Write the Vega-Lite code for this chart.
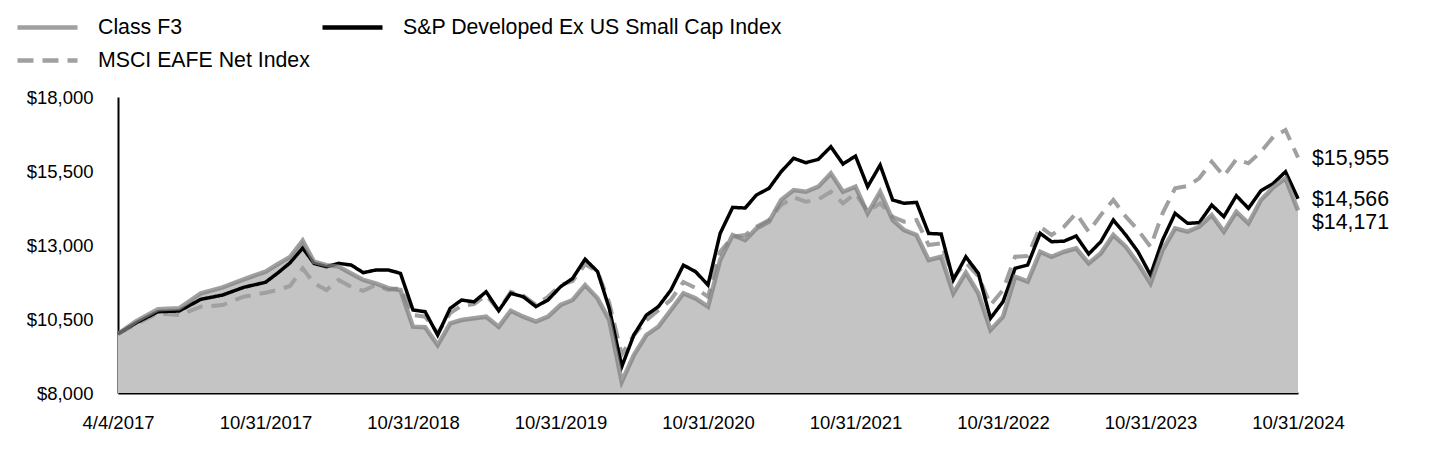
{
"$schema":"https://vega.github.io/schema/vega-lite/v6.json",
"width":1180,"height":296,
"autosize":{"type":"none"},
"padding":{"left":118,"top":97,"right":142,"bottom":75},
"background":"white",
"config":{"view":{"stroke":null},"font":"Liberation Sans",
"legend":{"orient":"none","legendX":-88,"legendY":-87,"columns":2,"columnPadding":3,"rowPadding":5,"symbolType":"M-2,0H2","symbolSize":900,"symbolStrokeWidth":4.5,"labelFontSize":21.3,"labelFont":"Liberation Sans","labelColor":"black","labelOffset":33,"padding":0,"labelLimit":0}},
"data":{"format":{"parse":{"d":"date"}},"values":[
{"d":"2017-04-04","Class F3":10000,"S&P Developed Ex US Small Cap Index":10000,"MSCI EAFE Net Index":10000},
{"d":"2017-04-30","Class F3":10430,"S&P Developed Ex US Small Cap Index":10375,"MSCI EAFE Net Index":10330},
{"d":"2017-05-31","Class F3":10830,"S&P Developed Ex US Small Cap Index":10746,"MSCI EAFE Net Index":10692},
{"d":"2017-06-30","Class F3":10860,"S&P Developed Ex US Small Cap Index":10770,"MSCI EAFE Net Index":10635},
{"d":"2017-07-31","Class F3":11370,"S&P Developed Ex US Small Cap Index":11165,"MSCI EAFE Net Index":10915},
{"d":"2017-08-31","Class F3":11570,"S&P Developed Ex US Small Cap Index":11310,"MSCI EAFE Net Index":10973},
{"d":"2017-09-30","Class F3":11840,"S&P Developed Ex US Small Cap Index":11570,"MSCI EAFE Net Index":11253},
{"d":"2017-10-31","Class F3":12100,"S&P Developed Ex US Small Cap Index":11740,"MSCI EAFE Net Index":11388},
{"d":"2017-11-30","Class F3":12350,"S&P Developed Ex US Small Cap Index":12050,"MSCI EAFE Net Index":11480},
{"d":"2017-12-31","Class F3":12600,"S&P Developed Ex US Small Cap Index":12400,"MSCI EAFE Net Index":11615},
{"d":"2018-01-31","Class F3":13150,"S&P Developed Ex US Small Cap Index":12900,"MSCI EAFE Net Index":12210},
{"d":"2018-02-28","Class F3":12435,"S&P Developed Ex US Small Cap Index":12380,"MSCI EAFE Net Index":11705},
{"d":"2018-03-31","Class F3":12320,"S&P Developed Ex US Small Cap Index":12267,"MSCI EAFE Net Index":11480},
{"d":"2018-04-30","Class F3":12270,"S&P Developed Ex US Small Cap Index":12380,"MSCI EAFE Net Index":11820},
{"d":"2018-05-31","Class F3":12040,"S&P Developed Ex US Small Cap Index":12324,"MSCI EAFE Net Index":11590},
{"d":"2018-06-30","Class F3":11820,"S&P Developed Ex US Small Cap Index":12064,"MSCI EAFE Net Index":11450},
{"d":"2018-07-31","Class F3":11700,"S&P Developed Ex US Small Cap Index":12155,"MSCI EAFE Net Index":11650},
{"d":"2018-08-31","Class F3":11540,"S&P Developed Ex US Small Cap Index":12155,"MSCI EAFE Net Index":11480},
{"d":"2018-09-30","Class F3":11480,"S&P Developed Ex US Small Cap Index":12043,"MSCI EAFE Net Index":11540},
{"d":"2018-10-31","Class F3":10240,"S&P Developed Ex US Small Cap Index":10804,"MSCI EAFE Net Index":10635},
{"d":"2018-11-30","Class F3":10220,"S&P Developed Ex US Small Cap Index":10746,"MSCI EAFE Net Index":10578},
{"d":"2018-12-31","Class F3":9620,"S&P Developed Ex US Small Cap Index":9959,"MSCI EAFE Net Index":10017},
{"d":"2019-01-31","Class F3":10355,"S&P Developed Ex US Small Cap Index":10860,"MSCI EAFE Net Index":10700},
{"d":"2019-02-28","Class F3":10466,"S&P Developed Ex US Small Cap Index":11140,"MSCI EAFE Net Index":10950},
{"d":"2019-03-31","Class F3":10523,"S&P Developed Ex US Small Cap Index":11080,"MSCI EAFE Net Index":11000},
{"d":"2019-04-30","Class F3":10578,"S&P Developed Ex US Small Cap Index":11420,"MSCI EAFE Net Index":11300},
{"d":"2019-05-31","Class F3":10240,"S&P Developed Ex US Small Cap Index":10780,"MSCI EAFE Net Index":10800},
{"d":"2019-06-30","Class F3":10780,"S&P Developed Ex US Small Cap Index":11370,"MSCI EAFE Net Index":11420},
{"d":"2019-07-31","Class F3":10578,"S&P Developed Ex US Small Cap Index":11250,"MSCI EAFE Net Index":11280},
{"d":"2019-08-31","Class F3":10409,"S&P Developed Ex US Small Cap Index":10920,"MSCI EAFE Net Index":10980},
{"d":"2019-09-30","Class F3":10578,"S&P Developed Ex US Small Cap Index":11140,"MSCI EAFE Net Index":11250},
{"d":"2019-10-31","Class F3":10973,"S&P Developed Ex US Small Cap Index":11590,"MSCI EAFE Net Index":11650},
{"d":"2019-11-30","Class F3":11142,"S&P Developed Ex US Small Cap Index":11870,"MSCI EAFE Net Index":11780},
{"d":"2019-12-31","Class F3":11648,"S&P Developed Ex US Small Cap Index":12520,"MSCI EAFE Net Index":12350},
{"d":"2020-01-31","Class F3":11199,"S&P Developed Ex US Small Cap Index":12100,"MSCI EAFE Net Index":12100},
{"d":"2020-02-29","Class F3":10466,"S&P Developed Ex US Small Cap Index":10860,"MSCI EAFE Net Index":11050},
{"d":"2020-03-31","Class F3":8382,"S&P Developed Ex US Small Cap Index":8890,"MSCI EAFE Net Index":9300},
{"d":"2020-04-30","Class F3":9284,"S&P Developed Ex US Small Cap Index":9960,"MSCI EAFE Net Index":9950},
{"d":"2020-05-31","Class F3":9959,"S&P Developed Ex US Small Cap Index":10630,"MSCI EAFE Net Index":10460},
{"d":"2020-06-30","Class F3":10240,"S&P Developed Ex US Small Cap Index":10920,"MSCI EAFE Net Index":10800},
{"d":"2020-07-31","Class F3":10804,"S&P Developed Ex US Small Cap Index":11480,"MSCI EAFE Net Index":11150},
{"d":"2020-08-31","Class F3":11368,"S&P Developed Ex US Small Cap Index":12320,"MSCI EAFE Net Index":11750},
{"d":"2020-09-30","Class F3":11199,"S&P Developed Ex US Small Cap Index":12100,"MSCI EAFE Net Index":11550},
{"d":"2020-10-31","Class F3":10915,"S&P Developed Ex US Small Cap Index":11650,"MSCI EAFE Net Index":11250},
{"d":"2020-11-30","Class F3":12493,"S&P Developed Ex US Small Cap Index":13390,"MSCI EAFE Net Index":12770},
{"d":"2020-12-31","Class F3":13337,"S&P Developed Ex US Small Cap Index":14270,"MSCI EAFE Net Index":13280},
{"d":"2021-01-31","Class F3":13168,"S&P Developed Ex US Small Cap Index":14250,"MSCI EAFE Net Index":13337},
{"d":"2021-02-28","Class F3":13563,"S&P Developed Ex US Small Cap Index":14690,"MSCI EAFE Net Index":13618},
{"d":"2021-03-31","Class F3":13788,"S&P Developed Ex US Small Cap Index":14915,"MSCI EAFE Net Index":13844},
{"d":"2021-04-30","Class F3":14520,"S&P Developed Ex US Small Cap Index":15476,"MSCI EAFE Net Index":14350},
{"d":"2021-05-31","Class F3":14857,"S&P Developed Ex US Small Cap Index":15930,"MSCI EAFE Net Index":14610},
{"d":"2021-06-30","Class F3":14800,"S&P Developed Ex US Small Cap Index":15780,"MSCI EAFE Net Index":14462},
{"d":"2021-07-31","Class F3":14970,"S&P Developed Ex US Small Cap Index":15894,"MSCI EAFE Net Index":14540},
{"d":"2021-08-31","Class F3":15421,"S&P Developed Ex US Small Cap Index":16320,"MSCI EAFE Net Index":14800},
{"d":"2021-09-30","Class F3":14800,"S&P Developed Ex US Small Cap Index":15736,"MSCI EAFE Net Index":14410},
{"d":"2021-10-31","Class F3":14970,"S&P Developed Ex US Small Cap Index":16006,"MSCI EAFE Net Index":14745},
{"d":"2021-11-30","Class F3":14070,"S&P Developed Ex US Small Cap Index":14970,"MSCI EAFE Net Index":14125},
{"d":"2021-12-31","Class F3":14800,"S&P Developed Ex US Small Cap Index":15700,"MSCI EAFE Net Index":14410},
{"d":"2022-01-31","Class F3":13844,"S&P Developed Ex US Small Cap Index":14520,"MSCI EAFE Net Index":13955},
{"d":"2022-02-28","Class F3":13506,"S&P Developed Ex US Small Cap Index":14410,"MSCI EAFE Net Index":13787},
{"d":"2022-03-31","Class F3":13337,"S&P Developed Ex US Small Cap Index":14440,"MSCI EAFE Net Index":13844},
{"d":"2022-04-30","Class F3":12493,"S&P Developed Ex US Small Cap Index":13390,"MSCI EAFE Net Index":13000},
{"d":"2022-05-31","Class F3":12604,"S&P Developed Ex US Small Cap Index":13370,"MSCI EAFE Net Index":13057},
{"d":"2022-06-30","Class F3":11368,"S&P Developed Ex US Small Cap Index":11820,"MSCI EAFE Net Index":11900},
{"d":"2022-07-31","Class F3":12070,"S&P Developed Ex US Small Cap Index":12600,"MSCI EAFE Net Index":12400},
{"d":"2022-08-31","Class F3":11368,"S&P Developed Ex US Small Cap Index":12043,"MSCI EAFE Net Index":11950},
{"d":"2022-09-30","Class F3":10128,"S&P Developed Ex US Small Cap Index":10523,"MSCI EAFE Net Index":10973},
{"d":"2022-10-31","Class F3":10578,"S&P Developed Ex US Small Cap Index":11084,"MSCI EAFE Net Index":11480},
{"d":"2022-11-30","Class F3":11930,"S&P Developed Ex US Small Cap Index":12212,"MSCI EAFE Net Index":12604},
{"d":"2022-12-31","Class F3":11760,"S&P Developed Ex US Small Cap Index":12324,"MSCI EAFE Net Index":12628},
{"d":"2023-01-31","Class F3":12773,"S&P Developed Ex US Small Cap Index":13394,"MSCI EAFE Net Index":13618},
{"d":"2023-02-28","Class F3":12604,"S&P Developed Ex US Small Cap Index":13111,"MSCI EAFE Net Index":13337},
{"d":"2023-03-31","Class F3":12773,"S&P Developed Ex US Small Cap Index":13130,"MSCI EAFE Net Index":13618},
{"d":"2023-04-30","Class F3":12888,"S&P Developed Ex US Small Cap Index":13303,"MSCI EAFE Net Index":14070},
{"d":"2023-05-31","Class F3":12381,"S&P Developed Ex US Small Cap Index":12695,"MSCI EAFE Net Index":13450},
{"d":"2023-06-30","Class F3":12718,"S&P Developed Ex US Small Cap Index":13111,"MSCI EAFE Net Index":14013},
{"d":"2023-07-31","Class F3":13337,"S&P Developed Ex US Small Cap Index":13844,"MSCI EAFE Net Index":14520},
{"d":"2023-08-31","Class F3":12942,"S&P Developed Ex US Small Cap Index":13337,"MSCI EAFE Net Index":13956},
{"d":"2023-09-30","Class F3":12381,"S&P Developed Ex US Small Cap Index":12773,"MSCI EAFE Net Index":13506},
{"d":"2023-10-31","Class F3":11706,"S&P Developed Ex US Small Cap Index":11986,"MSCI EAFE Net Index":12942},
{"d":"2023-11-30","Class F3":12830,"S&P Developed Ex US Small Cap Index":13168,"MSCI EAFE Net Index":14070},
{"d":"2023-12-31","Class F3":13563,"S&P Developed Ex US Small Cap Index":14070,"MSCI EAFE Net Index":14915},
{"d":"2024-01-31","Class F3":13450,"S&P Developed Ex US Small Cap Index":13732,"MSCI EAFE Net Index":14992},
{"d":"2024-02-29","Class F3":13618,"S&P Developed Ex US Small Cap Index":13754,"MSCI EAFE Net Index":15253},
{"d":"2024-03-31","Class F3":14013,"S&P Developed Ex US Small Cap Index":14350,"MSCI EAFE Net Index":15814},
{"d":"2024-04-30","Class F3":13450,"S&P Developed Ex US Small Cap Index":13956,"MSCI EAFE Net Index":15330},
{"d":"2024-05-31","Class F3":14125,"S&P Developed Ex US Small Cap Index":14665,"MSCI EAFE Net Index":15894},
{"d":"2024-06-30","Class F3":13732,"S&P Developed Ex US Small Cap Index":14239,"MSCI EAFE Net Index":15759},
{"d":"2024-07-31","Class F3":14520,"S&P Developed Ex US Small Cap Index":14834,"MSCI EAFE Net Index":16151},
{"d":"2024-08-31","Class F3":14950,"S&P Developed Ex US Small Cap Index":15084,"MSCI EAFE Net Index":16658},
{"d":"2024-09-30","Class F3":15253,"S&P Developed Ex US Small Cap Index":15476,"MSCI EAFE Net Index":16884},
{"d":"2024-10-31","Class F3":14171,"S&P Developed Ex US Small Cap Index":14566,"MSCI EAFE Net Index":15955}
]},
"transform":[{"fold":["Class F3","S&P Developed Ex US Small Cap Index","MSCI EAFE Net Index"],"as":["series","value"]}],
"encoding":{
"x":{"field":"d","type":"quantitative","title":null,
"scale":{"type":"linear","nice":false,"zero":false,
"domain":[1491264000000,1509408000000,1540944000000,1572480000000,1604102400000,1635638400000,1667174400000,1698710400000,1730332800000],
"range":[0,147.5,295,442.5,590,737.5,885,1032.5,1180]},
"axis":{"values":[1491264000000,1509408000000,1540944000000,1572480000000,1604102400000,1635638400000,1667174400000,1698710400000,1730332800000],
"labelExpr":"utcFormat(datum.value, '%-m/%-d/%Y')","ticks":false,"grid":false,"domainColor":"black","domainWidth":2,"labelFontSize":18.5,"labelFont":"Liberation Sans","labelColor":"black","labelPadding":20,"labelFlush":false,"labelOverlap":false}},
"y":{"field":"value","type":"quantitative","title":null,
"scale":{"domain":[8000,18000],"zero":false,"nice":false},
"axis":{"values":[8000,10500,13000,15500,18000],"format":"$,.0f","ticks":false,"grid":false,"domainColor":"black","domainWidth":2,"labelFontSize":18.5,"labelFont":"Liberation Sans","labelColor":"black","labelPadding":25}}
},
"layer":[
{"transform":[{"filter":"datum.series === 'Class F3'"}],"mark":{"type":"area","color":"#c4c4c4"},"encoding":{"y2":{"datum":8000}}},
{"transform":[{"filter":"datum.series === 'MSCI EAFE Net Index'"}],"mark":{"type":"line","strokeWidth":4},
"encoding":{"color":{"field":"series","type":"nominal","title":null,"scale":{"domain":["Class F3","MSCI EAFE Net Index","S&P Developed Ex US Small Cap Index"],"range":["#a0a0a0","#a0a0a0","#000000"]},"legend":{"values":["Class F3","MSCI EAFE Net Index","S&P Developed Ex US Small Cap Index"]}},
"strokeDash":{"field":"series","type":"nominal","title":null,"scale":{"domain":["Class F3","MSCI EAFE Net Index","S&P Developed Ex US Small Cap Index"],"range":[[1,0],[16,9],[1,0]]},"legend":{"values":["Class F3","MSCI EAFE Net Index","S&P Developed Ex US Small Cap Index"]}}}},
{"transform":[{"filter":"datum.series === 'S&P Developed Ex US Small Cap Index'"}],"mark":{"type":"line","strokeWidth":3.5},
"encoding":{"color":{"field":"series","type":"nominal","title":null,"scale":{"domain":["Class F3","MSCI EAFE Net Index","S&P Developed Ex US Small Cap Index"],"range":["#a0a0a0","#a0a0a0","#000000"]},"legend":{"values":["Class F3","MSCI EAFE Net Index","S&P Developed Ex US Small Cap Index"]}},
"strokeDash":{"field":"series","type":"nominal","title":null,"scale":{"domain":["Class F3","MSCI EAFE Net Index","S&P Developed Ex US Small Cap Index"],"range":[[1,0],[16,9],[1,0]]},"legend":{"values":["Class F3","MSCI EAFE Net Index","S&P Developed Ex US Small Cap Index"]}}}},
{"transform":[{"filter":"datum.series === 'Class F3'"}],"mark":{"type":"line","color":"#808080","opacity":0.75,"strokeWidth":4.5}},
{"transform":[{"filter":"datum.series !== 'Class F3' && utcyear(datum.d) == 2024 && utcmonth(datum.d) == 9"}],
"mark":{"type":"text","align":"left","baseline":"middle","dx":14,"dy":1,"fontSize":21.3,"font":"Liberation Sans","color":"black"},
"encoding":{"text":{"field":"value","type":"quantitative","format":"$,.0f"}}},
{"transform":[{"filter":"datum.series === 'Class F3' && utcyear(datum.d) == 2024 && utcmonth(datum.d) == 9"}],
"mark":{"type":"text","align":"left","baseline":"middle","dx":14,"dy":13,"fontSize":21.3,"font":"Liberation Sans","color":"black"},
"encoding":{"text":{"field":"value","type":"quantitative","format":"$,.0f"}}}
]
}
